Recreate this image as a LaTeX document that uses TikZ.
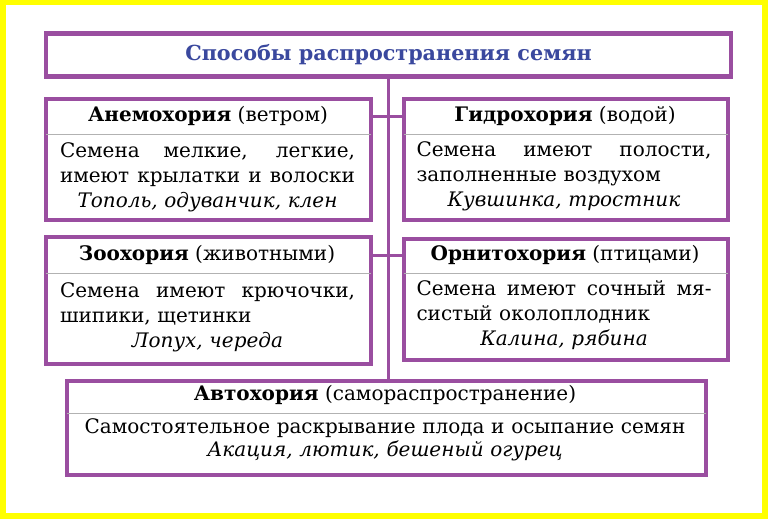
\documentclass[tikz,border=0pt]{standalone}
\usepackage{fontspec}
\setmainfont{DejaVu Serif}
\usepackage{tikz}
\usetikzlibrary{positioning}
\definecolor{boxpurple}{RGB}{154,78,160}
\definecolor{titleblue}{RGB}{58,72,158}
\definecolor{frameyellow}{RGB}{255,255,0}
\newcommand\jline[1]{\makebox[\hsize][s]{\spaceskip=.33em plus 1fill\relax #1}}
\newcommand\lline[1]{\makebox[\hsize][l]{#1}}

\begin{document}
\begin{tikzpicture}[x=1pt,y=-1pt,
    box/.style={draw=boxpurple,line width=4.5pt,fill=white,inner sep=0pt},
    head/.style={inner sep=0pt,font=\fontsize{20}{24}\selectfont},
    body/.style={inner sep=0pt,text width=295pt,align=center,font=\fontsize{20}{25}\selectfont},
    sep/.style={draw=gray!60,line width=1pt,shorten <=2.3pt,shorten >=2.3pt},
    link/.style={draw=boxpurple,line width=3pt}]
    \useasboundingbox (0,0) rectangle (768,519);
    \fill[frameyellow] (0,0) rectangle (768,519);
    \fill[white] (6,5) rectangle (762,513);

    % title and boxes
    \node[box,minimum width=685pt,minimum height=43pt,text=titleblue,font=\bfseries\fontsize{20.7}{24}\selectfont] (title) at (388.5,55) {Способы распространения семян};
    \node[box,minimum width=325pt,minimum height=121pt] (anemo) at (208.5,159.5) {};
    \node[box,minimum width=324pt,minimum height=121pt] (hydro) at (566,159.5) {};
    \node[box,minimum width=325pt,minimum height=127pt] (zoo) at (208.5,300.5) {};
    \node[box,minimum width=324pt,minimum height=121pt] (ornito) at (566,299.5) {};
    \node[box,minimum width=639pt,minimum height=94pt] (auto) at (386.5,428) {};

    \draw[sep] (anemo.west |- 0,134) -- (anemo.east |- 0,134);
    \draw[sep] (hydro.west |- 0,134) -- (hydro.east |- 0,134);
    \draw[sep] (zoo.west |- 0,273) -- (zoo.east |- 0,273);
    \draw[sep] (ornito.west |- 0,273) -- (ornito.east |- 0,273);
    \draw[sep] (auto.west |- 0,413) -- (auto.east |- 0,413);

    % headers
    \node[head] (anemo_h) at (208,116) {\textbf{Анемохория} (ветром)};
    \node[head] (hydro_h) at (565,116) {\textbf{Гидрохория} (водой)};
    \node[head] (zoo_h) at (207,255) {\textbf{Зоохория} (животными)};
    \node[head] (ornito_h) at (565,255) {\textbf{Орнитохория} (птицами)};
    \node[head] (auto_h) at (385,395) {\textbf{Автохория} (самораспространение)};

    % texts
    \node[body] (anemo_b) at (207.5,177) {\jline{Семена мелкие, легкие,}\\\jline{имеют крылатки и волоски}\\\textit{Тополь, одуванчик, клен}};
    \node[body] (hydro_b) at (564,176) {\jline{Семена имеют полости,}\\\lline{заполненные воздухом}\\\textit{Кувшинка, тростник}};
    \node[body] (zoo_b) at (207.5,317) {\jline{Семена имеют крючочки,}\\\lline{шипики, щетинки}\\\textit{Лопух, череда}};
    \node[body] (ornito_b) at (564,315) {\jline{Семена имеют сочный мя-}\\\lline{систый околоплодник}\\\textit{Калина, рябина}};
    \node[body,text width=620pt,font=\fontsize{20}{23}\selectfont] (auto_b) at (385,440) {Самостоятельное раскрывание плода и осыпание семян\\\textit{Акация, лютик, бешеный огурец}};

    % connectors
    \path[link] (title.south) edge (title.south |- auto.north);
    \path[link] (anemo.east |- anemo_h) edge (hydro.west |- anemo_h);
    \path[link] (zoo.east |- zoo_h) edge (ornito.west |- zoo_h);

\end{tikzpicture}
\end{document}
